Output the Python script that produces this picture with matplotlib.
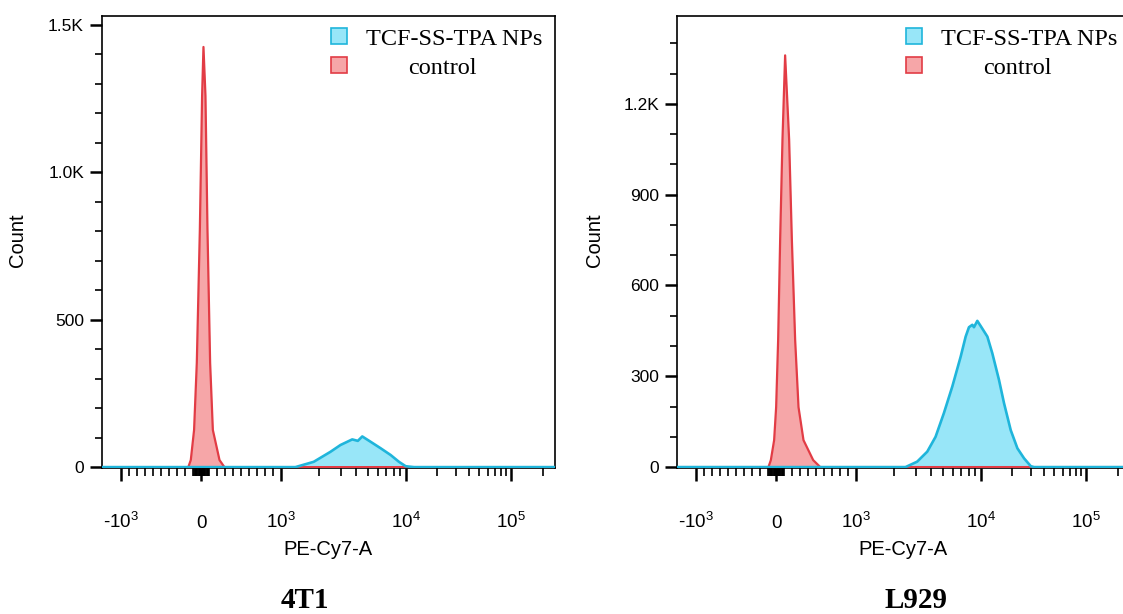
import numpy as np
import matplotlib
matplotlib.use("Agg")
import matplotlib.pyplot as plt
from matplotlib.patches import Patch

plt.rcParams['font.family'] = ['Liberation Sans', 'DejaVu Sans']
plt.rcParams['mathtext.fontset'] = 'custom'
plt.rcParams['mathtext.rm'] = 'Liberation Sans'

# ---- histogram outlines: (PE-Cy7-A value, count) ----
# 4T1
ctrl_4t1_x = [-1420, -160, -129, -88, -54, -16, 12, 29, 54, 79, 112, 146, 229, 290, 262144]
ctrl_4t1_y = [0, 0, 24, 126, 354, 806, 1259, 1425, 1259, 806, 354, 126, 24, 0, 0]
np_4t1_x = [-1420, 1297, 1821, 2485, 2990, 3718, 4123, 4477, 5221, 6288, 7573, 8830, 10000, 12000, 262144]
np_4t1_y = [0, 0, 18, 52, 75, 94, 89, 104, 86, 64, 41, 18, 3, 0, 0]

# L929
ctrl_l929_x = [-1420, -96, -66, -25, 0, 25, 50, 79, 112, 162, 196, 237, 279, 341, 462, 550, 262144]
ctrl_l929_y = [0, 0, 23, 89, 198, 420, 751, 1082, 1360, 1082, 751, 420, 198, 89, 23, 0, 0]
np_l929_x = [-1420, 2485, 3086, 3718, 4337, 5058, 5912, 6907, 7573, 8050, 8570, 8830, 9400,
             10000, 11580, 12900, 14930, 16670, 19300, 22340, 25830, 29920, 32150, 262144]
np_l929_y = [0, 0, 18, 51, 100, 178, 266, 365, 431, 462, 470, 462, 483,
             466, 431, 376, 288, 211, 122, 62, 29, 3, 0, 0]

panels = ['4T1', 'L929']
y_ticks = [[0, 500, 1000, 1500], [0, 300, 600, 900, 1200]]
y_labels = [['0', '500', '1.0K', '1.5K'], ['0', '300', '600', '900', '1.2K']]
y_tops = [1530, 1490]

series_names = ['TCF-SS-TPA NPs', 'control']
np_fill, np_line = '#98e6f8', '#1fb5db'
ctrl_fill, ctrl_line = '#f6a6a8', '#e23c45'

# ---- biexponential-like display scale (linear around 0, log above 10^3) ----
LIN = 1000.0
DEC = np.array([3.0, 4.0, 5.0, 6.0, 7.0])
POS = np.array([80.0, 204.0, 309.0, 414.0, 519.0])

def fwd(x):
    x = np.asarray(x, dtype=float)
    a = np.abs(x)
    lg = np.interp(np.log10(np.maximum(a, LIN)), DEC, POS)
    return np.sign(x) * np.where(a <= LIN, a * POS[0] / LIN, lg)

def inv(t):
    t = np.asarray(t, dtype=float)
    a = np.abs(t)
    return np.sign(t) * np.where(a <= POS[0], a * LIN / POS[0], 10 ** np.interp(a, POS, DEC))

x_major = [-1000, 0, 1000, 1e4, 1e5]
x_major_lbl = [r'-$\mathregular{10^{3}}$', '0', r'$\mathregular{10^{3}}$',
               r'$\mathregular{10^{4}}$', r'$\mathregular{10^{5}}$']
x_minor = ([-s * 100 for s in range(2, 10)] + [-s * 10 for s in range(1, 10)] + [-100]
           + [s * 10 for s in range(1, 10)] + [s * 100 for s in range(1, 10)]
           + [s * 1e3 for s in range(2, 10)] + [s * 1e4 for s in range(2, 10)] + [2e5])

fig = plt.figure(figsize=(11.23, 6.14), dpi=100)
ax_pos = [[102 / 1123, 1 - 468 / 614, 453 / 1123, 452 / 614],
          [677 / 1123, 1 - 468 / 614, 453 / 1123, 452 / 614]]
data = [(ctrl_4t1_x, ctrl_4t1_y, np_4t1_x, np_4t1_y),
        (ctrl_l929_x, ctrl_l929_y, np_l929_x, np_l929_y)]
title_x = [305 / 1123, 916 / 1123]
ylab_x = [-0.165, -0.162]

for i, name in enumerate(panels):
    ax = fig.add_axes(ax_pos[i])
    ax.set_xscale('function', functions=(fwd, inv))
    cx, cy, nx, ny = data[i]

    # drawing order: NP fill, control, NP outline on top
    ax.fill_between(nx, ny, 0, color=np_fill, lw=0, zorder=2)
    ax.fill_between(cx, cy, 0, color=ctrl_fill, lw=0, zorder=3)
    ax.plot(cx, cy, color=ctrl_line, lw=1.6, zorder=4)
    ax.plot(nx, ny, color=np_line, lw=1.9, zorder=5)

    ax.set_xlim(-1420, 262144)
    ax.set_ylim(-3, y_tops[i])

    ax.set_xticks(x_major, labels=x_major_lbl)
    ax.set_xticks(x_minor, minor=True)
    ax.set_yticks(y_ticks[i], labels=y_labels[i])
    ax.set_yticks(np.arange(0, y_tops[i], 100), minor=True)

    ax.tick_params(axis='x', which='major', length=9, width=1.8, pad=34, labelsize=13.5)
    ax.tick_params(axis='x', which='minor', length=5.5, width=1.2)
    ax.tick_params(axis='y', which='major', length=9, width=1.8, pad=4, labelsize=12.5)
    ax.tick_params(axis='y', which='minor', length=5, width=1.2)
    for t in ax.get_xticklabels():
        t.set_va('baseline')

    for sp in ax.spines.values():
        sp.set_linewidth(1.2)

    ax.set_ylabel('Count', fontsize=14.5)
    ax.yaxis.set_label_coords(ylab_x[i], 0.505)
    ax.set_xlabel('PE-Cy7-A', fontsize=14.5)
    ax.xaxis.set_label_coords(0.498, -0.16)

    handles = [Patch(facecolor=np_fill, edgecolor=np_line, lw=1.2),
               Patch(facecolor=ctrl_fill, edgecolor=ctrl_line, lw=1.2)]
    leg = ax.legend(handles, series_names, loc='upper right', bbox_to_anchor=(1.0, 1.0),
                    frameon=False, prop={'family': 'Liberation Serif', 'size': 17.5},
                    handlelength=0.65, handleheight=0.65, handletextpad=0.8,
                    labelspacing=0.3, borderaxespad=0.1)
    # centre "control" under the longer label
    leg.get_texts()[1].set_position((42, 0))

    fig.text(title_x[i], 0.022, name, ha='center', va='center',
             family='Liberation Serif', weight='bold', fontsize=21)

fig.savefig('out.png', dpi=100)
